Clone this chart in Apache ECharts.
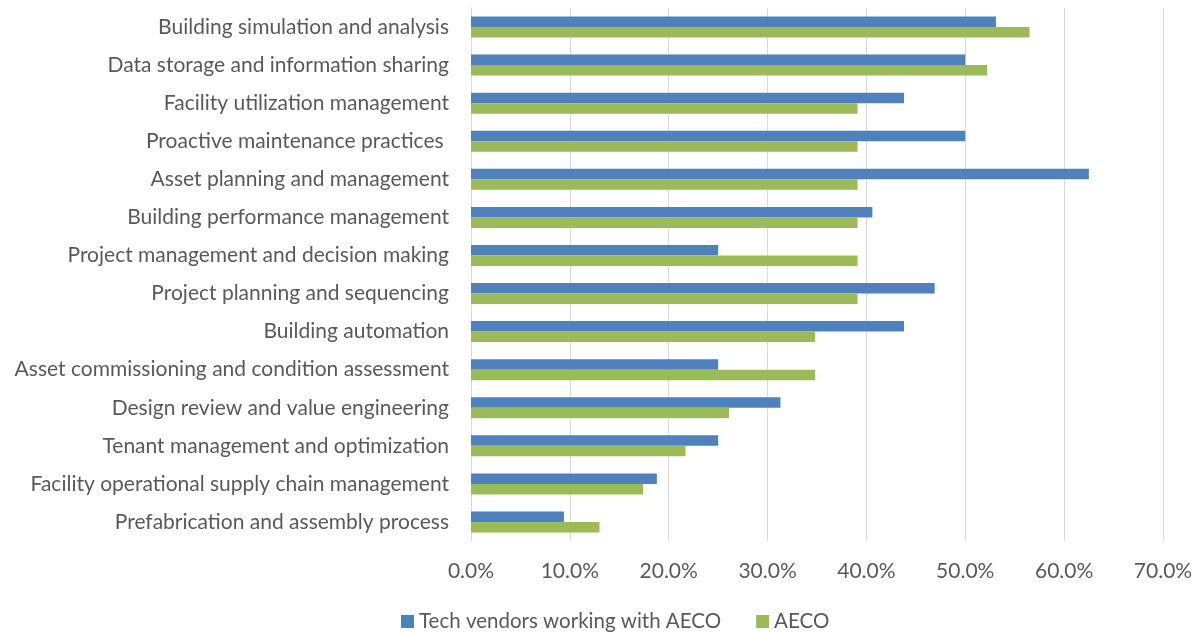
<!DOCTYPE html>
<html>
<head>
<meta charset="utf-8">
<script src="https://cdn.jsdelivr.net/npm/echarts@6/dist/echarts.min.js"></script>
<style>html,body{margin:0;padding:0;background:#fff}#c{width:1197px;height:633px}</style>
</head>
<body>
<div id="c"></div>
<script>
const categories = [
  "Building simulation and analysis",
  "Data storage and information sharing",
  "Facility utilization management",
  "Proactive maintenance practices ",
  "Asset planning and management",
  "Building performance management",
  "Project management and decision making",
  "Project planning and sequencing",
  "Building automation",
  "Asset commissioning and condition assessment",
  "Design review and value engineering",
  "Tenant management and optimization",
  "Facility operational supply chain management",
  "Prefabrication and assembly process"
];
const techVendors = [53.1, 50.0, 43.8, 50.0, 62.5, 40.6, 25.0, 46.9, 43.8, 25.0, 31.3, 25.0, 18.8, 9.4];
const aeco = [56.5, 52.2, 39.1, 39.1, 39.1, 39.1, 39.1, 39.1, 34.8, 34.8, 26.1, 21.7, 17.4, 13.0];
const seriesNames = ["Tech vendors working with AECO", "AECO"];
const xTicks = [0, 10, 20, 30, 40, 50, 60, 70];

const FONT = "Lato";
const TXT = "#595959";
const chart = echarts.init(document.getElementById('c'));
chart.setOption({
  animation: false,
  backgroundColor: '#fff',
  grid: { left: 471, right: 34, top: 8, bottom: 92, containLabel: false },
  legend: {
    top: 606, left: 396,
    itemWidth: 13, itemHeight: 13, itemGap: 35,
    icon: 'rect',
    textStyle: { fontFamily: FONT, fontSize: 20.5, color: TXT },
    data: seriesNames
  },
  xAxis: {
    type: 'value',
    min: xTicks[0], max: xTicks[xTicks.length - 1], interval: 10,
    axisLine: { show: false },
    axisTick: { show: false },
    splitLine: { show: true, lineStyle: { color: '#D9D9D9', width: 1 } },
    axisLabel: { fontFamily: FONT, fontSize: 21, color: TXT, margin: 20,
      formatter: v => v.toFixed(1) + '%' }
  },
  yAxis: {
    type: 'category',
    inverse: true,
    data: categories,
    axisLine: { show: true, lineStyle: { color: '#D9D9D9' } },
    axisTick: { show: false },
    axisLabel: { fontFamily: FONT, fontSize: 21, color: TXT, margin: 22 }
  },
  series: [
    { name: seriesNames[0], type: 'bar', data: techVendors, barWidth: 10.5, barGap: '0%',
      itemStyle: { color: '#4F81BD' } },
    { name: seriesNames[1], type: 'bar', data: aeco, barWidth: 10.5, barGap: '0%',
      itemStyle: { color: '#9BBB59' } }
  ]
});
</script>
</body>
</html>
